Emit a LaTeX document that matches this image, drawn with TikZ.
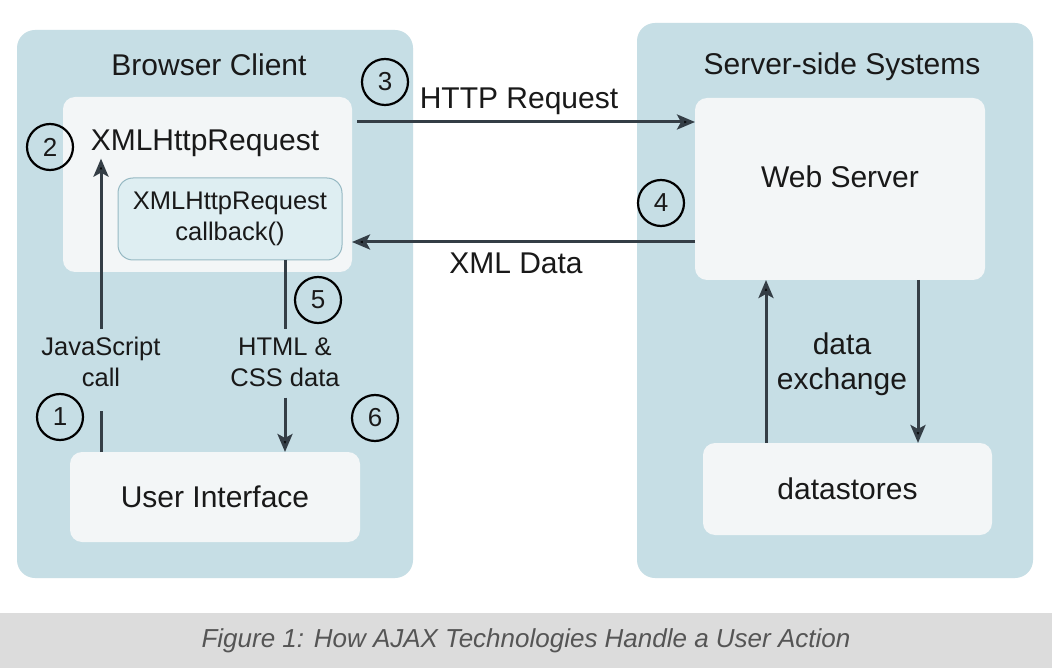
\documentclass[tikz,border=0pt]{standalone}
\usepackage{fontspec}
\setmainfont{Liberation Sans}
\usetikzlibrary{arrows.meta,calc}
\definecolor{panel}{RGB}{198,222,229}
\definecolor{inner}{RGB}{243,246,247}
\definecolor{cbfill}{RGB}{222,238,242}
\definecolor{cbdraw}{RGB}{150,185,195}
\definecolor{conn}{RGB}{52,62,70}
\definecolor{txt}{RGB}{25,25,25}
\definecolor{capband}{RGB}{220,220,220}
\definecolor{captxt}{RGB}{85,85,85}
\begin{document}
\begin{tikzpicture}[x=1pt,y=-1pt,
  box/.style={anchor=north west, inner sep=0pt, outer sep=0pt},
  panelbox/.style={box, fill=panel, rounded corners=18pt},
  whitebox/.style={box, fill=inner, rounded corners=12pt},
  big/.style={font=\fontsize{30}{35}\selectfont, text=txt, inner sep=2pt, align=center},
  small/.style={font=\fontsize{25.5}{31}\selectfont, text=txt, inner sep=2pt, align=center},
  num/.style={circle, draw=black, line width=2.2pt, minimum size=46pt, inner sep=0pt, font=\fontsize{26}{30}\selectfont, text=txt},
  line/.style={draw=conn, line width=3pt},
  arr/.style={line, -{Stealth[length=18pt,width=15pt,inset=4pt,fill=black]}}]
\useasboundingbox (0,0) rectangle (1052,668);
\fill[white] (0,0) rectangle (1052,668);
% panels
\node[panelbox, minimum width=396pt, minimum height=548pt] (pl) at (17,30) {};
\node[panelbox, minimum width=396pt, minimum height=555pt] (pr) at (637,23) {};
\node[big] (bc) at (209,65) {Browser Client};
\node[big] (ss) at (842,67) {Server-side Systems};
% left boxes
\node[whitebox, minimum width=289pt, minimum height=175pt] (xhr) at (63,97) {};
\node[big] (xhrt) at (205,143) {XMLHttpRequest};
\node[box, fill=cbfill, draw=cbdraw, line width=1pt, rounded corners=15pt, minimum width=224pt, minimum height=82pt, small] (cb) at (118,178) {XMLHttpRequest\\callback()};
\node[whitebox, minimum width=290pt, minimum height=90pt, big] (ui) at (70,452) {User Interface};
% right boxes
\node[whitebox, minimum width=290pt, minimum height=182pt] (web) at (695,98) {};
\node[big] (webt) at (840,177) {Web Server};
\node[whitebox, minimum width=289pt, minimum height=92pt, big] (ds) at (703,443) {datastores};
% labels
\node[small, inner ysep=8pt] (js) at (101,362) {JavaScript\\call};
\node[small, inner ysep=8pt] (html) at (285,362) {HTML \&\\CSS data};
\node[big] (de) at (842,364) {data\\exchange};
\node[big] (hr) at (519,101) {HTTP Request};
\node[big] (xd) at (516,263) {XML Data};
% numbers
\node[num] (n1) at (60,417) {1};
\node[num] (n2) at (50,147) {2};
\node[num] (n3) at (385,82) {3};
\node[num] (n4) at (661,203) {4};
\node[num] (n5) at (318,300) {5};
\node[num] (n6) at (375,418) {6};
% connectors
\draw[line] (ui.north -| js.south) -- ([yshift=-16pt]js.south);
\draw[arr] (js.north) -- (js.north |- xhrt.south);
\draw[line] (cb.south -| html.north) -- (html.north);
\draw[arr] ([yshift=-3pt]html.south) -- (html.south |- ui.north);
\draw[arr] ([xshift=5pt,yshift=-25pt]xhr.north east) -- ([yshift=-25pt]xhr.north east -| web.west);
\draw[arr] ([yshift=-144pt]web.north west) -- ([yshift=-144pt]web.north west -| xhr.east);
\draw[arr] ([xshift=63pt]ds.north west) -- ([xshift=63pt]ds.north west |- web.south);
\draw[arr] ([xshift=223pt]web.south west) -- ([xshift=223pt]web.south west |- ds.north);
% caption
\node[box, fill=capband, minimum width=1052pt, minimum height=55pt] (cap) at (0,613) {};
\node[font=\fontsize{26}{30}\selectfont\itshape, text=captxt] (capt) at (cap.center) {Figure 1: How AJAX Technologies Handle a User Action};
\end{tikzpicture}
\end{document}
